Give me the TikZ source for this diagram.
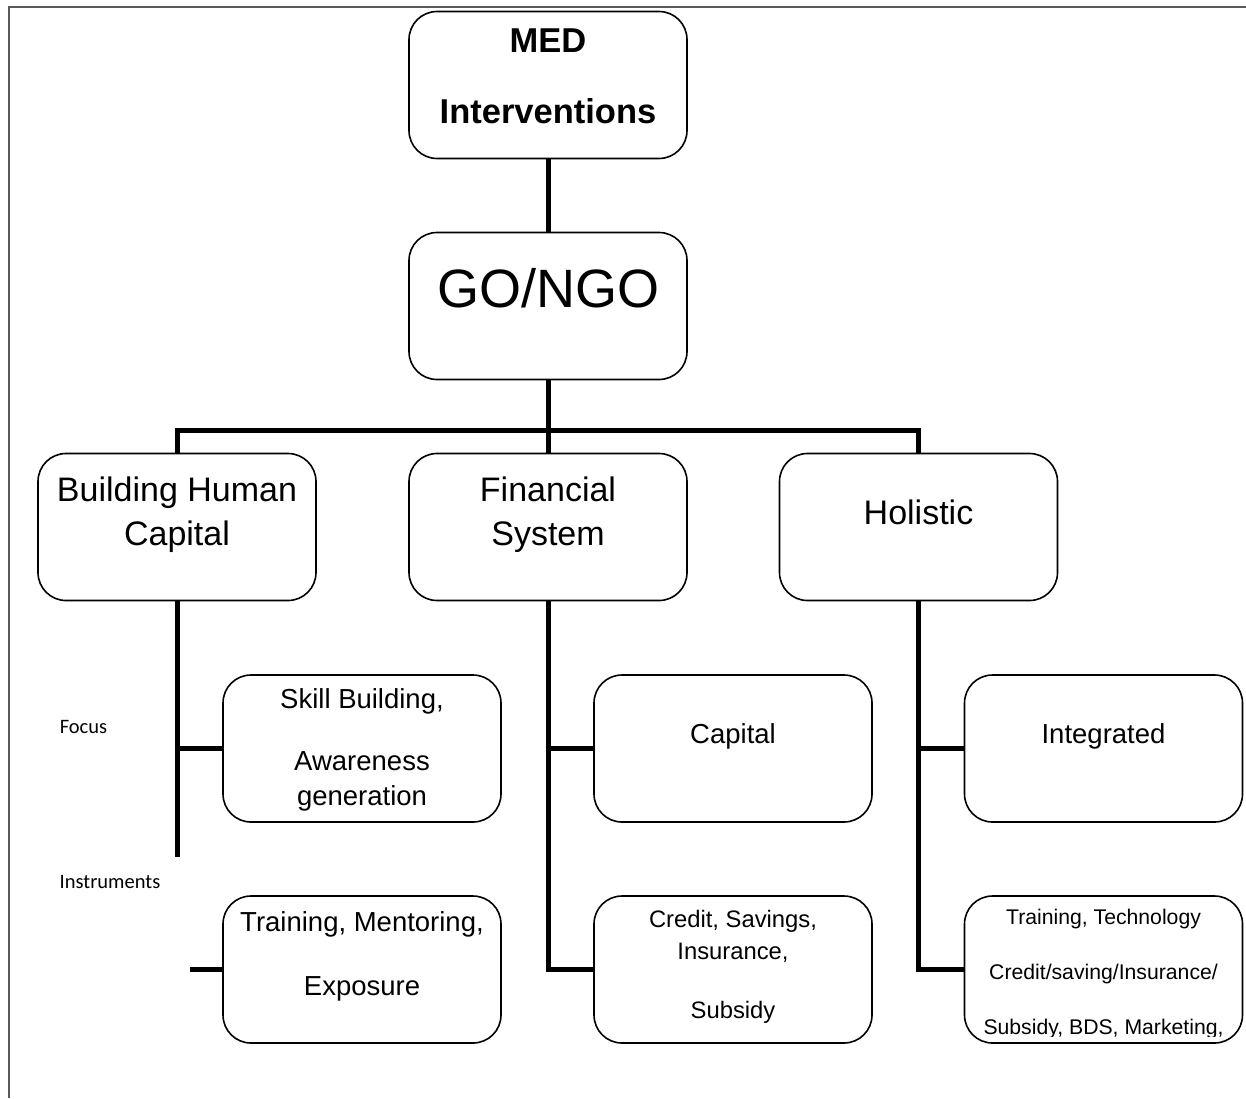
\documentclass[tikz,border=0pt]{standalone}
\usepackage{fontspec}
\setmainfont{Liberation Sans}
\newfontfamily\calibrifont{Carlito}
\begin{document}
\begin{tikzpicture}[x=1pt,y=-1pt,
  box/.style={draw, line width=1.6pt, rounded corners=28pt, minimum width=278pt, minimum height=147pt, inner sep=0pt},
  conn/.style={line width=5pt},
  tx/.style={anchor=base, inner sep=0pt},
  fbig/.style={font=\fontsize{34}{40}\selectfont},
  fhead/.style={font=\bfseries\fontsize{34.5}{40}\selectfont},
  fgo/.style={font=\fontsize{54}{60}\selectfont},
  fmid/.style={font=\fontsize{27.5}{32}\selectfont},
  fcs/.style={font=\fontsize{23.8}{28}\selectfont},
  fsm/.style={font=\fontsize{21.2}{25}\selectfont},
  flab/.style={font=\calibrifont\fontsize{20.5}{24}\selectfont}]
\useasboundingbox (0,0) rectangle (1246,1098);
% page frame
\draw[black!65, line width=1.3pt] (9,1098) -- (9,7) -- (1246,7);

% boxes
\node[box] (MED) at (548,85) {};
\node[box] (GO) at (548,306) {};
\node[box] (BHC) at (177,527) {};
\node[box] (FS) at (548,527) {};
\node[box] (HO) at (918.5,527) {};
\node[box] (SB) at (362,748.5) {};
\node[box] (CA) at (733,748.5) {};
\node[box] (IN) at (1103.5,748.5) {};
\node[box] (TM) at (362,969.5) {};
\node[box] (CS) at (733,969.5) {};
\node[box] (TT) at (1103.5,969.5) {};

% texts
\node[tx,fhead] (t1) at (548,52) {MED};
\node[tx,fhead] (t2) at (548,123) {Interventions};
\node[tx,fgo] (t3) at (548,307) {GO/NGO};
\node[tx,fbig] (t4) at (177,501) {Building Human};
\node[tx,fbig] (t5) at (177,545) {Capital};
\node[tx,fbig] (t6) at (548,501) {Financial};
\node[tx,fbig] (t7) at (548,545) {System};
\node[tx,fbig] (t8) at (918.5,524) {Holistic};
\node[tx,fmid] (t9) at (362,708) {Skill Building,};
\node[tx,fmid] (t10) at (362,770) {Awareness};
\node[tx,fmid] (t11) at (362,805) {generation};
\node[tx,fmid] (t12) at (733,743) {Capital};
\node[tx,fmid] (t13) at (1103.5,743) {Integrated};
\node[tx,fmid] (t14) at (362,931) {Training, Mentoring,};
\node[tx,fmid] (t15) at (362,995) {Exposure};
\node[tx,fcs] (t16) at (733,927) {Credit, Savings,};
\node[tx,fcs] (t17) at (733,959) {Insurance,};
\node[tx,fcs] (t18) at (733,1018) {Subsidy};
\node[tx,fsm] (t19) at (1103.5,924) {Training, Technology};
\node[tx,fsm] (t20) at (1103.5,979) {Credit/saving/Insurance/};
\begin{scope}
  \clip (965,896) rectangle (1242,1036.5);
  \node[tx,fsm] (t21) at (1103.5,1034) {Subsidy, BDS, Marketing,};
\end{scope}
\node[tx,flab] (focus) at (83.5,733) {Focus};
\node[tx,flab] (instr) at (110,888) {Instruments};

% connectors
\coordinate (bus) at (548,430);
\coordinate (bhcend) at (177,857);
\coordinate (stub) at (190,969.5);
\draw[conn] (MED.south) -- (GO.north);
\draw[conn] (GO.south) -- (bus);
\draw[conn] (BHC.north) -- (BHC.north |- bus) -- (HO.north |- bus) -- (HO.north);
\draw[conn] (bus) -- (FS.north);
\draw[conn] (BHC.south) -- (bhcend);
\draw[conn] (SB.west -| BHC.south) -- (SB.west);
\draw[conn] (stub) -- (TM.west);
\draw[conn] (FS.south) |- (CS.west);
\draw[conn] (CA.west -| FS.south) -- (CA.west);
\draw[conn] (HO.south) |- (TT.west);
\draw[conn] (IN.west -| HO.south) -- (IN.west);
\end{tikzpicture}
\end{document}
